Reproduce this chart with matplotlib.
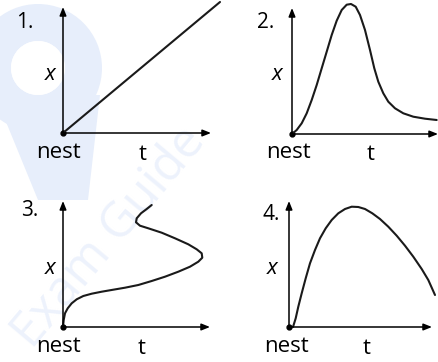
import matplotlib
matplotlib.use("Agg")
import matplotlib.pyplot as plt
from matplotlib.patches import Wedge, Polygon

plt.rcParams["font.family"] = ["Open Sans", "DejaVu Sans"]

W, H = 219, 181  # size of one panel in pixels

# panel 1: straight line away from the nest
t1 = [0, 157]
x1 = [0, 131]

# panel 2: out to a peak, then back towards the nest
t2 = [0, 4.7, 9.7, 14.7, 19.7, 24.7, 29.7, 34.7, 39.7, 44.7, 49.7, 54.7, 59, 63.7,
      68, 73, 78, 82.3, 86.3, 91.3, 96.3, 103, 111.3, 121.3, 133, 144.7]
x2 = [0, 4, 10.7, 20.7, 34, 49, 65.7, 82.3, 99, 113.3, 124, 129.3, 130, 127.3,
      119, 104, 84, 65.7, 52.3, 40.7, 32.3, 25.7, 20.7, 17.3, 15.3, 14]

# panel 3: curve that turns back in time
t3 = [0, 0.7, 2, 4.7, 8.7, 13.7, 20.3, 28.7, 38.7, 50.3, 62, 75.3, 88.7, 102, 115.3,
      127, 135.3, 139.3, 138.7, 133.7, 125.3, 112, 98.7, 85.3, 77, 73, 73.7, 78, 83.7, 88.7]
x3 = [0, 7, 13.7, 18.7, 23.7, 27.7, 31, 33.3, 35.3, 37.3, 39.3, 42, 46, 50.3, 55.3,
      60.3, 65.3, 69.3, 73.7, 77.7, 82.7, 88.7, 94.3, 98.7, 101.3, 104.7, 108.7, 113.7, 118, 122]

# panel 4: up and slowly down
t4 = [4, 6.7, 9.3, 12.7, 16.7, 21, 26, 31, 36.7, 42.7, 49.3, 56, 62.7, 69.3, 76,
      83.3, 91, 99.3, 107.7, 116, 124.3, 132.7, 139.3, 146]
x4 = [0, 8.7, 20.3, 33.7, 48.7, 63.7, 77, 88.7, 98.7, 107, 113.7, 118, 120.3, 120, 118,
      113.7, 108, 100.3, 91.3, 81.3, 70.3, 58, 47, 32]

panels = [
    {"label": "1.", "t": t1, "x": x1, "origin": (63, 133), "pos": (0, 0),
     "ytop": 126, "tend": 148, "num": (-38, 111), "xl": (-13, 58), "nest": (-5, -20), "tl": (80, -21)},
    {"label": "2.", "t": t2, "x": x2, "origin": (73, 134), "pos": (219, 0),
     "ytop": 126, "tend": 146, "num": (-26, 112), "xl": (-15, 59), "nest": (-3, -19), "tl": (79, -21)},
    {"label": "3.", "t": t3, "x": x3, "origin": (63, 146), "pos": (0, 181),
     "ytop": 126, "tend": 147, "num": (-33, 116), "xl": (-13, 58), "nest": (-5, -19), "tl": (79, -22)},
    {"label": "4.", "t": t4, "x": x4, "origin": (70, 146), "pos": (219, 181),
     "ytop": 126, "tend": 143, "num": (-18, 113), "xl": (-17, 58), "nest": (-3, -19), "tl": (78, -22)},
]

fig = plt.figure(figsize=(4.38, 3.62), dpi=100)
FW, FH = 438, 362

# faint watermark behind everything
bg = fig.add_axes([0, 0, 1, 1], zorder=0)
bg.set_xlim(0, FW)
bg.set_ylim(FH, 0)
bg.axis("off")
wm = "#e7eefb"
bg.add_patch(Polygon([(-5, 95), (100, 95), (88, 200), (38, 200)], closed=True,
                     facecolor=wm, edgecolor="none"))
bg.add_patch(Wedge((38, 68), 64, 0, 360, width=37, facecolor=wm, edgecolor="none"))
bg.add_patch(Wedge((38, 68), 27, 0, 360, facecolor="white", edgecolor="none"))
bg.text(110, 238, "Exam Guide", fontsize=35, color="#edf2fc", rotation=50,
        ha="center", va="center")

for p in panels:
    px, py = p["pos"]
    ox, oy = p["origin"]
    ax = fig.add_axes([px / FW, 1 - (py + H) / FH, W / FW, H / FH], zorder=1)
    ax.set_xlim(-ox, W - ox)
    ax.set_ylim(-(H - oy), oy)
    ax.axis("off")
    ax.patch.set_alpha(0)

    arrow = dict(arrowstyle="-|>,head_length=0.5,head_width=0.2", color="black", lw=1.1,
                 shrinkA=0, shrinkB=0)
    ax.annotate("", xy=(0, p["ytop"]), xytext=(0, 0), arrowprops=arrow)
    ax.annotate("", xy=(p["tend"], 0), xytext=(0, 0), arrowprops=arrow)
    ax.plot([0], [0], "o", color="black", ms=3.5)

    ax.plot(p["t"], p["x"], color="#1a1a1a", lw=1.5, solid_joinstyle="round",
            solid_capstyle="round", clip_on=False)

    ax.text(*p["num"], p["label"], fontsize=15, ha="center", va="center")
    ax.text(*p["xl"], "x", fontsize=16, style="italic", ha="center", va="center")
    ax.text(*p["nest"], "nest", fontsize=16, ha="center", va="center")
    ax.text(*p["tl"], "t", fontsize=16, ha="center", va="center")

fig.savefig("out.png", dpi=100)
